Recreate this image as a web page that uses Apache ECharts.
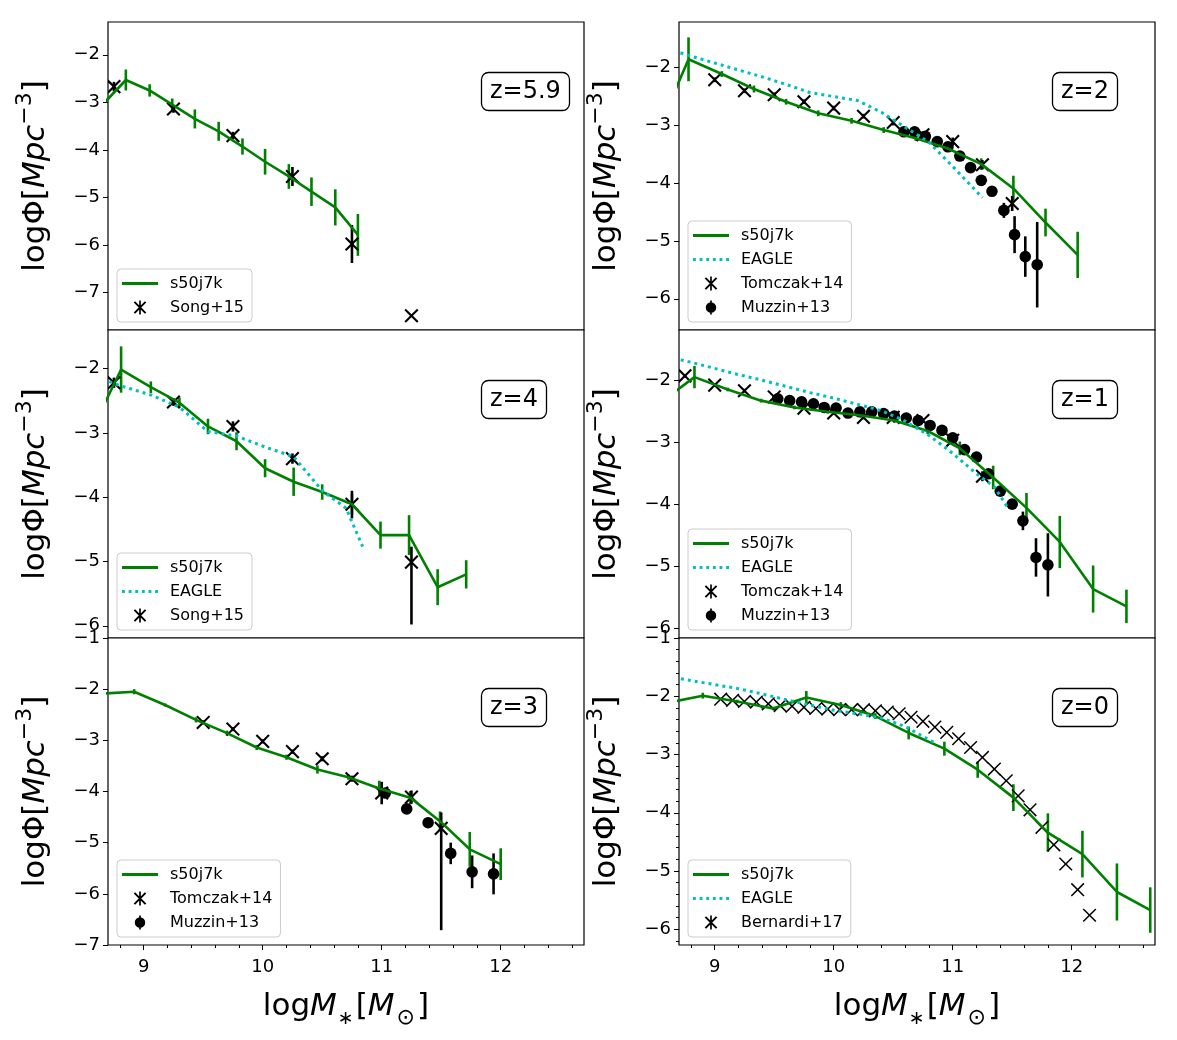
<!DOCTYPE html>
<html>
<head>
<meta charset="utf-8">
<script src="https://cdn.jsdelivr.net/npm/echarts@6/dist/echarts.min.js"></script>
<style>
html, body { margin: 0; background: #fff; }
#chart { width: 1177px; height: 1040px; }
</style>
</head>
<body>
<div id="chart"></div>
<script>
// ---- z=5.9 ----
const sim59X = [8.65, 8.85, 9.05, 9.24, 9.43, 9.63, 9.83, 10.02, 10.22, 10.41, 10.61, 10.80]
const sim59Y = [-3.06, -2.53, -2.75, -3.05, -3.35, -3.61, -3.93, -4.25, -4.56, -4.88, -5.21, -5.79]
const sim59E = [0.2, 0.22, 0.13, 0.13, 0.2, 0.2, 0.17, 0.27, 0.26, 0.3, 0.38, 0.44]
const song59X = [8.75, 9.25, 9.75, 10.25, 10.75, 11.25]
const song59Y = [-2.67, -3.14, -3.70, -4.56, -5.98, -7.49]
const song59Lo = [0.1, 0.08, 0.08, 0.2, 0.4, 0]
const song59Hi = [0.1, 0.08, 0.08, 0.2, 0.4, 0]

// ---- z=2 ----
const sim2X = [8.51, 8.78, 9.06, 9.33, 9.60, 9.87, 10.15, 10.42, 10.69, 10.96, 11.24, 11.51, 11.78, 12.05]
const sim2Y = [-3.15, -1.855, -2.11, -2.37, -2.59, -2.79, -2.92, -3.08, -3.22, -3.40, -3.67, -4.09, -4.68, -5.24]
const sim2E = [0.3, 0.38, 0.05, 0.06, 0.05, 0.05, 0.05, 0.05, 0.05, 0.06, 0.1, 0.22, 0.24, 0.4]
const eagle2X = [8.6, 8.8, 9.0, 9.2, 9.4, 9.6, 9.8, 10.0, 10.2, 10.4, 10.6, 10.8, 11.0, 11.25]
const eagle2Y = [-1.67, -1.80, -1.92, -2.04, -2.16, -2.29, -2.43, -2.50, -2.57, -2.77, -3.03, -3.29, -3.71, -4.25]
const tom2X = [9.0, 9.25, 9.5, 9.75, 10.0, 10.25, 10.5, 10.75, 11.0, 11.25, 11.5]
const tom2Y = [-2.21, -2.40, -2.47, -2.59, -2.70, -2.84, -2.95, -3.16, -3.28, -3.68, -4.35]
const tom2E = [0.04, 0.04, 0.04, 0.04, 0.04, 0.04, 0.05, 0.06, 0.07, 0.08, 0.13]
const muz2X = [10.59, 10.68, 10.77, 10.87, 10.96, 11.06, 11.15, 11.24, 11.33, 11.43, 11.52, 11.61, 11.71]
const muz2Y = [-3.11, -3.11, -3.19, -3.28, -3.37, -3.53, -3.73, -3.95, -4.14, -4.47, -4.89, -5.27, -5.41]
const muz2E = [0.03, 0.03, 0.03, 0.03, 0.03, 0.04, 0.04, 0.05, 0.06, 0.13, 0.32, 0.35, 0.74]

// ---- z=4 ----
const sim4X = [8.57, 8.81, 9.06, 9.30, 9.54, 9.78, 10.02, 10.26, 10.50, 10.75, 10.99, 11.23, 11.47, 11.71]
const sim4Y = [-2.93, -2.015, -2.29, -2.53, -2.90, -3.13, -3.55, -3.76, -3.92, -4.11, -4.59, -4.59, -5.40, -5.20]
const sim4E = [0.3, 0.36, 0.09, 0.08, 0.12, 0.14, 0.14, 0.22, 0.12, 0.16, 0.21, 0.31, 0.28, 0.22]
const eagle4X = [8.6, 8.81, 9.06, 9.30, 9.54, 9.78, 10.02, 10.26, 10.50, 10.70, 10.84]
const eagle4Y = [-2.13, -2.27, -2.41, -2.60, -2.98, -3.05, -3.22, -3.37, -3.90, -4.17, -4.77]
const song4X = [8.75, 9.25, 9.75, 10.25, 10.75, 11.25]
const song4Y = [-2.22, -2.52, -2.90, -3.40, -4.11, -5.01]
const song4Lo = [0.08, 0.06, 0.08, 0.08, 0.22, 0.97]
const song4Hi = [0.08, 0.06, 0.08, 0.08, 0.21, 0.24]

// ---- z=1 ----
const sim1X = [8.55, 8.83, 9.11, 9.39, 9.67, 9.95, 10.23, 10.51, 10.79, 11.06, 11.34, 11.62, 11.90, 12.18, 12.46]
const sim1Y = [-2.35, -1.95, -2.15, -2.33, -2.44, -2.51, -2.57, -2.65, -2.82, -3.10, -3.57, -4.06, -4.61, -5.37, -5.65]
const sim1E = [0.2, 0.18, 0.03, 0.03, 0.03, 0.03, 0.03, 0.04, 0.05, 0.11, 0.19, 0.24, 0.42, 0.38, 0.27]
const eagle1X = [8.6, 8.8, 9.0, 9.2, 9.4, 9.6, 9.8, 10.0, 10.2, 10.4, 10.6, 10.8, 11.0, 11.2, 11.35, 11.46]
const eagle1Y = [-1.62, -1.71, -1.81, -1.91, -2.00, -2.10, -2.20, -2.29, -2.39, -2.49, -2.66, -2.89, -3.18, -3.51, -3.72, -4.05]
const tom1X = [8.75, 9.0, 9.25, 9.5, 9.75, 10.0, 10.25, 10.5, 10.75, 11.0, 11.25]
const tom1Y = [-1.93, -2.08, -2.17, -2.27, -2.45, -2.53, -2.60, -2.60, -2.65, -2.97, -3.55]
const tom1E = [0.03, 0.03, 0.03, 0.03, 0.03, 0.03, 0.03, 0.04, 0.04, 0.05, 0.08]
const muz1X = [9.53, 9.63, 9.73, 9.83, 9.92, 10.02, 10.12, 10.22, 10.32, 10.42, 10.51, 10.61, 10.71, 10.81, 10.91, 11.0, 11.1, 11.2, 11.3, 11.4, 11.5, 11.59, 11.7, 11.8]
const muz1Y = [-2.30, -2.33, -2.35, -2.38, -2.44, -2.45, -2.53, -2.51, -2.51, -2.54, -2.58, -2.61, -2.65, -2.73, -2.81, -2.93, -3.12, -3.24, -3.51, -3.79, -4.00, -4.27, -4.86, -4.98]
const muz1E = [0.02, 0.02, 0.02, 0.02, 0.02, 0.02, 0.02, 0.02, 0.02, 0.02, 0.02, 0.02, 0.02, 0.02, 0.02, 0.02, 0.03, 0.03, 0.03, 0.04, 0.05, 0.15, 0.31, 0.51]

// ---- z=3 ----
const sim3X = [8.67, 8.92, 9.18, 9.44, 9.70, 9.95, 10.20, 10.46, 10.72, 10.98, 11.24, 11.49, 11.74, 12.00]
const sim3Y = [-2.085, -2.05, -2.31, -2.60, -2.86, -3.14, -3.33, -3.57, -3.72, -3.94, -4.12, -4.58, -5.13, -5.42]
const sim3E = [0.04, 0.05, 0.03, 0.05, 0.05, 0.05, 0.05, 0.08, 0.05, 0.15, 0.13, 0.19, 0.34, 0.31]
const tom3X = [9.5, 9.75, 10.0, 10.25, 10.5, 10.75, 11.0, 11.25, 11.5]
const tom3Y = [-2.65, -2.78, -3.02, -3.22, -3.36, -3.75, -4.03, -4.11, -4.72]
const tom3Lo = [0.04, 0.04, 0.04, 0.04, 0.05, 0.06, 0.22, 0.13, 1.99]
const tom3Hi = [0.04, 0.04, 0.04, 0.04, 0.05, 0.06, 0.22, 0.13, 0.31]
const muz3X = [11.03, 11.21, 11.39, 11.58, 11.76, 11.94]
const muz3Y = [-4.03, -4.34, -4.61, -5.21, -5.57, -5.61]
const muz3E = [0.04, 0.06, 0.1, 0.21, 0.32, 0.40]

// ---- z=0 ----
const sim0X = [8.61, 8.90, 9.19, 9.49, 9.77, 10.06, 10.35, 10.63, 10.93, 11.21, 11.51, 11.80, 12.09, 12.38, 12.66]
const sim0Y = [-2.11, -1.99, -2.09, -2.21, -2.02, -2.15, -2.34, -2.63, -2.90, -3.26, -3.74, -4.34, -4.71, -5.36, -5.67]
const sim0E = [0.05, 0.05, 0.03, 0.03, 0.11, 0.05, 0.05, 0.11, 0.12, 0.14, 0.23, 0.33, 0.40, 0.49, 0.39]
const eagle0X = [8.6, 8.8, 9.0, 9.2, 9.4, 9.6, 9.8, 10.0, 10.2, 10.4, 10.6, 10.84]
const eagle0Y = [-1.66, -1.73, -1.80, -1.87, -1.96, -2.06, -2.15, -2.24, -2.30, -2.37, -2.52, -2.79]
const bern0X = [9.05, 9.15, 9.25, 9.35, 9.45, 9.55, 9.65, 9.75, 9.85, 9.95, 10.05, 10.15, 10.25, 10.35, 10.45, 10.55,
    10.65, 10.75, 10.85, 10.95, 11.05, 11.15, 11.25, 11.35, 11.45, 11.55, 11.65, 11.75, 11.85, 11.95, 12.05, 12.15]
const bern0Y = [-2.05, -2.07, -2.09, -2.10, -2.13, -2.16, -2.17, -2.19, -2.21, -2.22, -2.23, -2.23, -2.23, -2.25, -2.27, -2.30,
    -2.36, -2.43, -2.53, -2.62, -2.73, -2.88, -3.05, -3.25, -3.45, -3.71, -3.95, -4.25, -4.55, -4.88, -5.32, -5.76]

// axis ticks
const xMajor = [9, 10, 11, 12]
const xMinor = [8.8, 9, 9.2, 9.4, 9.6, 9.8, 10, 10.2, 10.4, 10.6, 10.8, 11, 11.2, 11.4, 11.6, 11.8, 12, 12.2, 12.4, 12.6]
const yMinor0 = [-6.2, -6, -5.8, -5.6, -5.4, -5.2, -5, -4.8, -4.6, -4.4, -4.2, -4, -3.8, -3.6, -3.4, -3.2, -3, -2.8, -2.6, -2.4, -2.2, -2, -1.8, -1.6, -1.4, -1.2, -1]

const GREEN = '#008000'
const CYAN = '#00bfbf'
const FONT = 'DejaVu Sans'
const H = 1040
const colLeft = [108, 679]
const colWidth = 476
const rowTop = [22, 330, 638]
const rowHeight = [308, 308, 307]

// legend icons
const ICON_STAR = 'path://M8.8,0L11.2,0L11.2,20L8.8,20Z M1,3L3,1L19,17L17,19Z M17,1L19,3L3,19L1,17Z'
const ICON_DOT = 'path://M2.5,10A7.5,7.5,0,1,1,17.5,10A7.5,7.5,0,1,1,2.5,10Z M8.8,0L11.2,0L11.2,20L8.8,20Z'
const ICON_LINE = 'path://M0,0L36,0L36,3L0,3Z'
const ICON_DOTTED = 'path://M0,0L3,0L3,3L0,3Z M7,0L10,0L10,3L7,3Z M14,0L17,0L17,3L14,3Z M21,0L24,0L24,3L21,3Z M28,0L31,0L31,3L28,3Z M35,0L38,0L38,3L35,3Z'

const LG_SIM = { name: 's50j7k', icon: ICON_LINE }
const LG_EAGLE = { name: 'EAGLE', icon: ICON_DOTTED }

const panels = [
    { label: 'z=5.9', row: 0, col: 0, yMin: -7.79, yMax: -1.31, yTicks: [-7, -6, -5, -4, -3, -2],
      legend: [LG_SIM, { name: 'Song+15', icon: ICON_STAR }] },
    { label: 'z=2', row: 0, col: 1, yMin: -6.54, yMax: -1.21, yTicks: [-6, -5, -4, -3, -2],
      legend: [LG_SIM, LG_EAGLE, { name: 'Tomczak+14', icon: ICON_STAR }, { name: 'Muzzin+13', icon: ICON_DOT }] },
    { label: 'z=4', row: 1, col: 0, yMin: -6.19, yMax: -1.40, yTicks: [-6, -5, -4, -3, -2],
      legend: [LG_SIM, LG_EAGLE, { name: 'Song+15', icon: ICON_STAR }] },
    { label: 'z=1', row: 1, col: 1, yMin: -6.16, yMax: -1.19, yTicks: [-6, -5, -4, -3, -2],
      legend: [LG_SIM, LG_EAGLE, { name: 'Tomczak+14', icon: ICON_STAR }, { name: 'Muzzin+13', icon: ICON_DOT }] },
    { label: 'z=3', row: 2, col: 0, yMin: -7, yMax: -1, yTicks: [-7, -6, -5, -4, -3, -2, -1],
      legend: [LG_SIM, { name: 'Tomczak+14', icon: ICON_STAR }, { name: 'Muzzin+13', icon: ICON_DOT }] },
    { label: 'z=0', row: 2, col: 1, yMin: -6.27, yMax: -1, yTicks: [-6, -5, -4, -3, -2, -1],
      legend: [LG_SIM, LG_EAGLE, { name: 'Bernardi+17', icon: ICON_STAR }] }
]

function zip(xs, ys) {
    return xs.map((x, i) => [x, ys[i]])
}

function fmtTick(v) {
    return (v < 0 ? '\u2212' : '') + Math.abs(v)
}

function errRender(params, api) {
    const x = api.value(0), y = api.value(1), e = api.value(2)
    const a = api.coord([x, y - e])
    const b = api.coord([x, y + e])
    return {
        type: 'line',
        shape: { x1: a[0], y1: a[1], x2: b[0], y2: b[1] },
        style: { stroke: GREEN, lineWidth: 2.6 }
    }
}

// kind: 'x' cross with error bar, 'o' filled dot with error bar, 'thin' plain cross
function obsRender(kind) {
    return function (params, api) {
        const x = api.value(0), y = api.value(1), lo = api.value(2), hi = api.value(3)
        const c = api.coord([x, y])
        const children = []
        if (lo > 0 || hi > 0) {
            const a = api.coord([x, y - lo])
            const b = api.coord([x, y + hi])
            children.push({ type: 'line', shape: { x1: c[0], y1: a[1], x2: c[0], y2: b[1] },
                style: { stroke: '#000', lineWidth: 2.6 } })
        }
        if (kind === 'o') {
            children.push({ type: 'circle', shape: { cx: c[0], cy: c[1], r: 5.8 }, style: { fill: '#000' } })
        } else {
            const s = 6.3
            const w = kind === 'thin' ? 1.5 : 2.1
            children.push(
                { type: 'line', shape: { x1: c[0] - s, y1: c[1] - s, x2: c[0] + s, y2: c[1] + s }, style: { stroke: '#000', lineWidth: w } },
                { type: 'line', shape: { x1: c[0] - s, y1: c[1] + s, x2: c[0] + s, y2: c[1] - s }, style: { stroke: '#000', lineWidth: w } }
            )
        }
        return { type: 'group', children: children }
    }
}

function simSeries(g, xs, ys, es) {
    return [{
        name: 's50j7k', type: 'line', xAxisIndex: g, yAxisIndex: g,
        data: zip(xs, ys), symbol: 'none', clip: true,
        lineStyle: { color: GREEN, width: 2.6 }, itemStyle: { color: GREEN }
    }, {
        name: 's50j7k', type: 'custom', xAxisIndex: g, yAxisIndex: g, clip: true,
        data: xs.map((x, i) => [x, ys[i], es[i]]),
        renderItem: errRender, itemStyle: { color: GREEN }
    }]
}

function eagleSeries(g, xs, ys) {
    return {
        name: 'EAGLE', type: 'line', xAxisIndex: g, yAxisIndex: g,
        data: zip(xs, ys), symbol: 'none', clip: true,
        lineStyle: { color: CYAN, width: 3, type: [3, 4] }, itemStyle: { color: CYAN }
    }
}

function obsSeries(name, g, xs, ys, lo, hi, kind) {
    return {
        name: name, type: 'custom', xAxisIndex: g, yAxisIndex: g, clip: true,
        data: xs.map((x, i) => [x, ys[i], lo ? lo[i] : 0, hi ? hi[i] : 0]),
        renderItem: obsRender(kind), itemStyle: { color: '#000' }, z: 3
    }
}

const series = [].concat(
    simSeries(0, sim59X, sim59Y, sim59E),
    obsSeries('Song+15', 0, song59X, song59Y, song59Lo, song59Hi, 'x'),

    simSeries(1, sim2X, sim2Y, sim2E),
    eagleSeries(1, eagle2X, eagle2Y),
    obsSeries('Tomczak+14', 1, tom2X, tom2Y, tom2E, tom2E, 'x'),
    obsSeries('Muzzin+13', 1, muz2X, muz2Y, muz2E, muz2E, 'o'),

    simSeries(2, sim4X, sim4Y, sim4E),
    eagleSeries(2, eagle4X, eagle4Y),
    obsSeries('Song+15', 2, song4X, song4Y, song4Lo, song4Hi, 'x'),

    simSeries(3, sim1X, sim1Y, sim1E),
    eagleSeries(3, eagle1X, eagle1Y),
    obsSeries('Tomczak+14', 3, tom1X, tom1Y, tom1E, tom1E, 'x'),
    obsSeries('Muzzin+13', 3, muz1X, muz1Y, muz1E, muz1E, 'o'),

    simSeries(4, sim3X, sim3Y, sim3E),
    obsSeries('Tomczak+14', 4, tom3X, tom3Y, tom3Lo, tom3Hi, 'x'),
    obsSeries('Muzzin+13', 4, muz3X, muz3Y, muz3E, muz3E, 'o'),

    simSeries(5, sim0X, sim0Y, sim0E),
    eagleSeries(5, eagle0X, eagle0Y),
    obsSeries('Bernardi+17', 5, bern0X, bern0Y, null, null, 'thin')
)

const yName = '{r|log\u03a6[}{i|Mpc}{sup|\u22123}{r|]}'
const xName = '{r|log}{i|M}{ast|\u2217}{r|[}{i|M}{sub|\u2299}{r|]}'
const nameRich = {
    r: { fontSize: 31, lineHeight: 44, fontFamily: FONT, color: '#000' },
    i: { fontSize: 31, lineHeight: 44, fontFamily: FONT, fontStyle: 'italic', color: '#000' },
    sup: { fontSize: 22, lineHeight: 25, fontFamily: FONT, verticalAlign: 'top', color: '#000' },
    ast: { fontSize: 19, lineHeight: 34, fontFamily: FONT, verticalAlign: 'bottom', color: '#000', padding: [0, 2, 0, 1] },
    sub: { fontSize: 22, lineHeight: 27, fontFamily: FONT, verticalAlign: 'bottom', color: '#000', padding: [0, 2, 0, 2] }
}

const grids = panels.map(p => ({
    left: colLeft[p.col], top: rowTop[p.row], width: colWidth, height: rowHeight[p.row],
    show: true, borderColor: '#000', borderWidth: 1.2, backgroundColor: '#fff',
    outerBoundsMode: 'none'
}))

const xAxes = panels.map((p, i) => {
    const bottom = p.row === 2
    return {
        type: 'value', gridIndex: i, min: 8.7, max: 12.7,
        axisLine: { show: false },
        splitLine: { show: false },
        axisTick: { show: bottom, customValues: xMajor, length: 5, lineStyle: { color: '#000', width: 1 } },
        axisLabel: { show: bottom, customValues: xMajor, fontSize: 18, color: '#000', fontFamily: FONT, margin: 13 },
        name: bottom ? xName : '', nameLocation: 'middle', nameGap: 40,
        nameTextStyle: { rich: nameRich }
    }
})
// minor ticks on the bottom row
;[4, 5].forEach(g => {
    xAxes.push({
        type: 'value', gridIndex: g, min: 8.7, max: 12.7, position: 'bottom',
        axisLine: { show: false }, splitLine: { show: false }, axisLabel: { show: false },
        axisTick: { show: true, customValues: xMinor, length: 3, lineStyle: { color: '#000', width: 1 } }
    })
})

const yAxes = panels.map((p, i) => ({
    type: 'value', gridIndex: i, min: p.yMin, max: p.yMax,
    axisLine: { show: false },
    splitLine: { show: false },
    axisTick: { show: true, customValues: p.yTicks, length: 5, lineStyle: { color: '#000', width: 1 } },
    axisLabel: { customValues: p.yTicks, formatter: fmtTick, fontSize: 18, color: '#000', fontFamily: FONT, margin: 8 },
    name: yName, nameLocation: 'middle', nameGap: 50, nameRotate: 90,
    nameTextStyle: { rich: nameRich }
}))
yAxes.push({
    type: 'value', gridIndex: 5, min: -6.27, max: -1, position: 'left',
    axisLine: { show: false }, splitLine: { show: false }, axisLabel: { show: false },
    axisTick: { show: true, customValues: yMinor0, length: 3, lineStyle: { color: '#000', width: 1 } }
})

const legends = panels.map(p => ({
    data: p.legend,
    orient: 'vertical',
    left: colLeft[p.col] + 9,
    bottom: H - (rowTop[p.row] + rowHeight[p.row]) + 8,
    itemWidth: 36, itemHeight: 14, itemGap: 5,
    padding: [5, 8, 5, 5],
    backgroundColor: '#fff', borderColor: '#ccc', borderWidth: 1, borderRadius: 4,
    selectedMode: false,
    textStyle: { fontSize: 16, fontFamily: FONT, color: '#000', lineHeight: 19, padding: [0, 0, 0, 7] }
}))

const titles = panels.map(p => ({
    text: p.label,
    left: colLeft[p.col] + 373,
    top: rowTop[p.row] + 50,
    padding: [5, 9],
    borderColor: '#000', borderWidth: 1.3, borderRadius: 7, backgroundColor: '#fff',
    textStyle: { fontSize: 24, fontWeight: 'normal', fontFamily: FONT, color: '#000', lineHeight: 29 }
}))

const chart = echarts.init(document.getElementById('chart'))
chart.setOption({
    backgroundColor: '#fff',
    animation: false,
    textStyle: { fontFamily: FONT },
    title: titles,
    legend: legends,
    grid: grids,
    xAxis: xAxes,
    yAxis: yAxes,
    series: series
})
</script>
</body>
</html>
